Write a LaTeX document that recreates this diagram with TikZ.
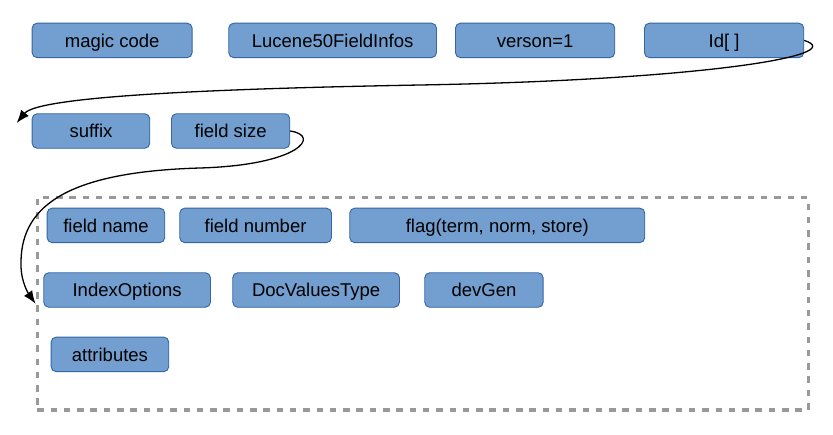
\documentclass[tikz,border=0pt]{standalone}
\usepackage{fontspec}
\setmainfont{Liberation Sans}
\usetikzlibrary{arrows.meta}
\definecolor{boxfill}{HTML}{729FCF}
\definecolor{boxline}{HTML}{3465A4}
\definecolor{framegray}{HTML}{999999}
\begin{document}
\begin{tikzpicture}[x=1pt,y=-1pt,
    field/.style={draw=boxline,fill=boxfill,rounded corners=5pt,line width=0.9pt,
      anchor=north west,minimum height=34.5pt,inner sep=0pt,text height=13.2pt,
      text depth=0pt,font=\fontsize{18.5}{22}\selectfont},
    link/.style={->,line width=1.3pt},
    >={Latex[length=13pt,width=10pt]}]
  \useasboundingbox (0,0) rectangle (833,434);
  \foreach \nm/\x/\w/\txt in {magic/31.7/160/magic code,codec/228.3/207.7/Lucene50FieldInfos,
      version/455/159.3/verson=1,id/644/159.3/{Id[ ]}}{
    \node[field,minimum width=\w] (\nm) at (\x,22.7) {\txt};
  }
  \node[field,minimum width=117.6pt] (suffix) at (31.7,113.3) {suffix};
  \node[field,minimum width=118.3pt] (size) at (171,113.3) {field size};
  \node[draw=framegray,line width=3.3pt,dash pattern=on 6.5pt off 6.8pt,anchor=north west,
    minimum width=771pt,minimum height=212.3pt,inner sep=0pt] (fields) at (35.6,196) {};
  \foreach \nm/\x/\y/\w/\txt in {fname/46.7/207.7/117.6/field name,fnum/179.3/207.7/151.7/field number,
      flag/349.3/207.7/295/{flag(term, norm, store)},idxopt/43.3/272.3/166.7/IndexOptions,
      dvtype/232.3/272.3/166.7/DocValuesType,devgen/424.3/272.3/118.4/devGen,
      attrs/50.7/336.7/117.6/attributes}{
    \node[field,minimum width=\w] (\nm) at (\x,\y) {\txt};
  }
  \coordinate (bend1) at (420,85);
  \coordinate (bend2) at (200,168);
  \coordinate (bend3) at (21,265);
  \coordinate (suffixin) at ([shift={(-15,-8)}]suffix.west);
  \draw[link] (id.east) .. controls +(47,15) and +(280,-5) .. (bend1)
    .. controls +(-200,3.6) and +(22,-27) .. (suffixin);
  \draw[link] (size.east) .. controls +(31,4.5) and +(100,-3) .. (bend2)
    .. controls +(-140,4) and +(-1,-55) .. (bend3)
    .. controls +(0,17) and +(-7,-10) .. (fields.west);
\end{tikzpicture}
\end{document}
